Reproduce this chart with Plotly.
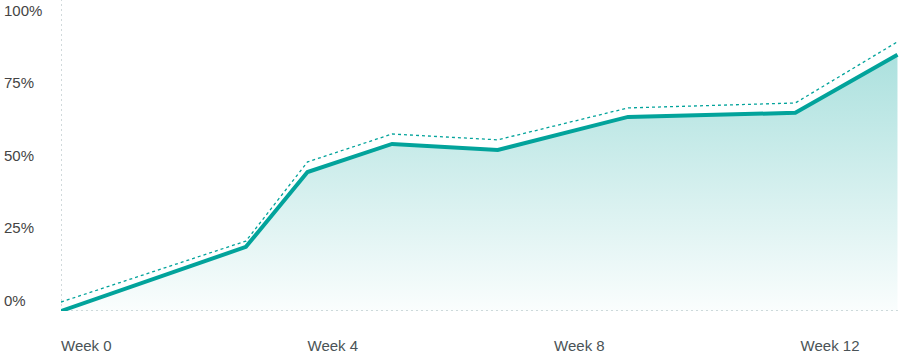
import plotly.graph_objects as go

# Data (x in days since start, y in percent)
days = [0, 21, 28, 37.6, 49.6, 64.4, 83.4, 95]
actual = [0, 22.1, 47.9, 57.6, 55.5, 66.9, 68.3, 88.3]
upper = [3.1, 24.1, 51.4, 61.0, 59.0, 70.0, 71.7, 92.8]

x_tick_vals = [0, 28, 56, 84]
x_tick_text = ["Week 0", "Week 4", "Week 8", "Week 12"]
y_tick_vals = [0, 25, 50, 75, 100]
y_tick_text = ["0%", "25%", "50%", "75%", "100%"]

TEAL = "#02a39b"
GRID = "#a2b4b8"
TEXT = "#4a5356"

fig = go.Figure()

fig.add_trace(go.Scatter(
    x=days, y=actual, mode="lines",
    line=dict(color=TEAL, width=4),
    fill="tozeroy",
    fillgradient=dict(
        type="vertical",
        colorscale=[[0, "rgba(2,163,155,0.02)"], [1, "rgba(2,163,155,0.33)"]],
    ),
    hoverinfo="skip", showlegend=False,
))

fig.add_trace(go.Scatter(
    x=days, y=upper, mode="lines",
    line=dict(color=TEAL, width=1.3, dash="3px,3px"),
    hoverinfo="skip", showlegend=False,
))

fig.update_layout(
    width=901, height=356,
    margin=dict(l=0, r=0, t=0, b=45),
    paper_bgcolor="white", plot_bgcolor="white",
    font=dict(family="Liberation Sans, Arial, sans-serif", size=15, color=TEXT),
    xaxis=dict(
        domain=[61 / 901, 1],
        range=[0, 95.4],
        tickvals=x_tick_vals, ticktext=x_tick_text,
        ticklabelposition="outside right",
        ticklabelstandoff=24,
        showgrid=False, zeroline=False, showline=False, ticks="",
    ),
    yaxis=dict(
        range=[0, 107.2],
        anchor="free", position=0,
        tickvals=y_tick_vals, ticktext=y_tick_text,
        ticklabelposition="inside top",
        showgrid=False, zeroline=False, showline=False, ticks="",
    ),
    shapes=[
        dict(type="line", xref="x", yref="paper", x0=0, x1=0, y0=0, y1=1,
             line=dict(color=GRID, width=1, dash="2px,3px"), layer="below"),
        dict(type="line", xref="x domain", yref="y", x0=0, x1=1, y0=0, y1=0,
             line=dict(color=GRID, width=1, dash="2px,3px"), layer="below"),
    ],
)

fig.write_html("out.html")
